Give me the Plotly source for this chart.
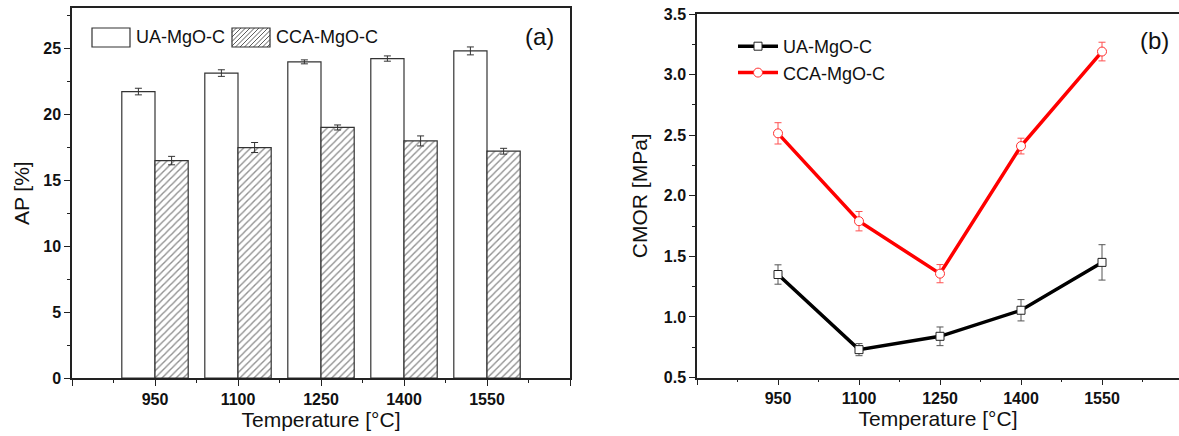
import plotly.graph_objects as go

W, H = 1179, 436

# ---------------- data ----------------
temps = [950, 1100, 1250, 1400, 1550]
tick_labels = ["950", "1100", "1250", "1400", "1550"]
series_names = ["UA-MgO-C", "CCA-MgO-C"]

ap_ua = [21.7, 23.1, 23.95, 24.2, 24.78]
ap_ua_err = [0.25, 0.25, 0.15, 0.2, 0.3]
ap_cca = [16.47, 17.46, 18.98, 17.96, 17.18]
ap_cca_err = [0.32, 0.38, 0.19, 0.38, 0.22]

cmor_ua = [1.35, 0.73, 0.84, 1.055, 1.45]
cmor_ua_err = [0.08, 0.05, 0.077, 0.088, 0.146]
cmor_cca = [2.515, 1.79, 1.357, 2.41, 3.19]
cmor_cca_err = [0.088, 0.08, 0.075, 0.065, 0.077]

# ---------------- helpers ----------------
def px(x):
    return x / W


def py(y):
    return 1 - y / H


FONT = "Liberation Sans"
AX = "#222222"
major_x = [800] + temps + [1700]
major_txt = [""] + tick_labels + [""]
minor_x = [875 + 150 * i for i in range(6)]

fig = go.Figure()

# ---------------- panel (a): bars ----------------
bar_w = 60
fig.add_trace(go.Bar(
    x=temps, y=ap_ua, width=bar_w, offset=-bar_w, name=series_names[0],
    marker=dict(color="white", line=dict(color="#333333", width=1.2)),
    error_y=dict(type="data", array=ap_ua_err, color="#333333", thickness=1, width=3.5),
    xaxis="x", yaxis="y", showlegend=False,
))
fig.add_trace(go.Bar(
    x=temps, y=ap_cca, width=bar_w, offset=0, name=series_names[1],
    marker=dict(color="white", line=dict(color="#333333", width=1.2),
                pattern=dict(shape="/", fgcolor="#222222", bgcolor="white", size=5, solidity=0.28)),
    error_y=dict(type="data", array=ap_cca_err, color="#333333", thickness=1, width=3.5),
    xaxis="x", yaxis="y", showlegend=False,
))

# ---------------- panel (b): lines ----------------
fig.add_trace(go.Scatter(
    x=temps, y=cmor_ua, name=series_names[0], mode="lines+markers",
    line=dict(color="black", width=3.5),
    marker=dict(symbol="square", size=8, color="white", line=dict(color="#222222", width=1)),
    error_y=dict(type="data", array=cmor_ua_err, color="#555555", thickness=1, width=3.5),
    xaxis="x2", yaxis="y2", legend="legend2",
))
fig.add_trace(go.Scatter(
    x=temps, y=cmor_cca, name=series_names[1], mode="lines+markers",
    line=dict(color="#ff0000", width=3.5),
    marker=dict(symbol="circle", size=9, color="white", line=dict(color="#ff3030", width=1)),
    error_y=dict(type="data", array=cmor_cca_err, color="#ff5050", thickness=1, width=3.5),
    xaxis="x2", yaxis="y2", legend="legend2",
))

tickfont = dict(family=FONT, size=16, color="#111111", weight="bold")
titlefont = dict(family=FONT, size=21, color="#111111")

xcommon = dict(
    tickmode="array", tickvals=major_x, ticktext=major_txt,
    ticks="outside", ticklen=6, tickwidth=1.2, tickcolor=AX,
    minor=dict(tickvals=minor_x, ticks="outside", ticklen=3, tickwidth=1.2, tickcolor=AX),
    showline=True, linecolor=AX, linewidth=1.5, mirror=True,
    showgrid=False, zeroline=False, tickfont=tickfont, automargin=False,
    title=dict(text="Temperature [°C]", font=titlefont, standoff=5),
)

fig.update_layout(
    width=W, height=H,
    margin=dict(l=0, r=0, t=0, b=0, autoexpand=False),
    paper_bgcolor="white", plot_bgcolor="white",
    barmode="overlay",
    font=dict(family=FONT, color="#111111"),
    xaxis=dict(domain=[px(72), px(570)], range=[800, 1700], anchor="y", **xcommon),
    yaxis=dict(
        domain=[py(378), py(8.4)], range=[0, 28], anchor="x",
        tickmode="linear", tick0=0, dtick=5,
        ticks="outside", ticklen=6, tickwidth=1.2, tickcolor=AX,
        minor=dict(dtick=2.5, tick0=0, ticks="outside", ticklen=3, tickwidth=1.2, tickcolor=AX),
        showline=True, linecolor=AX, linewidth=1.5, mirror=True,
        showgrid=False, zeroline=False, tickfont=tickfont, automargin=False,
        title=dict(text="AP [%]", font=titlefont, standoff=8),
    ),
    xaxis2=dict(domain=[px(697), 1.0], range=[800, 800 + (W - 697) / 81.0 * 150], anchor="y2", **xcommon),
    yaxis2=dict(
        domain=[py(377.5), py(14)], range=[0.5, 3.5], anchor="x2",
        tickmode="linear", tick0=0.5, dtick=0.5, tickformat=".1f",
        ticks="outside", ticklen=6, tickwidth=1.2, tickcolor=AX,
        minor=dict(dtick=0.25, tick0=0.5, ticks="outside", ticklen=3, tickwidth=1.2, tickcolor=AX),
        showline=True, linecolor=AX, linewidth=1.5, mirror=False,
        showgrid=False, zeroline=False, tickfont=tickfont, automargin=False,
        title=dict(text="CMOR [MPa]", font=titlefont, standoff=10),
    ),
    legend2=dict(
        x=px(733), y=py(28), xanchor="left", yanchor="top",
        font=dict(family=FONT, size=18, color="#111111"),
        bgcolor="rgba(0,0,0,0)", borderwidth=0, tracegroupgap=0, itemwidth=40,
    ),
    showlegend=True,
)

# ---------------- custom legend for panel (a) ----------------
shapes = []
box_ua = (92, 28, 130, 47)
box_cca = (232, 28, 270, 47)
for (x0, y0, x1, y1) in (box_ua, box_cca):
    shapes.append(dict(type="rect", xref="paper", yref="paper",
                       x0=px(x0), x1=px(x1), y0=py(y1), y1=py(y0),
                       line=dict(color="#333333", width=1.2), fillcolor="white"))
# hatch lines for CCA swatch ("/" direction), clipped to the box
x0, y0, x1, y1 = box_cca
h = y1 - y0
step = 4.5
s = x0 - h
while s < x1:
    ax_, ay_ = s, y1
    bx_, by_ = s + h, y0
    if ax_ < x0:
        ay_ = y1 - (x0 - ax_)
        ax_ = x0
    if bx_ > x1:
        by_ = y0 + (bx_ - x1)
        bx_ = x1
    if bx_ > ax_:
        shapes.append(dict(type="line", xref="paper", yref="paper",
                           x0=px(ax_), y0=py(ay_), x1=px(bx_), y1=py(by_),
                           line=dict(color="#333333", width=0.8)))
    s += step
fig.update_layout(shapes=shapes)

annotations = [
    dict(text=series_names[0], x=px(134), y=py(37.5), xref="paper", yref="paper",
         xanchor="left", yanchor="middle", showarrow=False,
         font=dict(family=FONT, size=18, color="#111111")),
    dict(text=series_names[1], x=px(274), y=py(37.5), xref="paper", yref="paper",
         xanchor="left", yanchor="middle", showarrow=False,
         font=dict(family=FONT, size=18, color="#111111")),
    dict(text="(a)", x=px(539), y=py(37), xref="paper", yref="paper",
         xanchor="center", yanchor="middle", showarrow=False,
         font=dict(family=FONT, size=24, color="#111111")),
    dict(text="(b)", x=px(1154), y=py(40), xref="paper", yref="paper",
         xanchor="center", yanchor="middle", showarrow=False,
         font=dict(family=FONT, size=24, color="#111111")),
]
fig.update_layout(annotations=annotations)

fig.write_html("out.html", config={"displayModeBar": False},
               post_script="document.body.style.margin='0';document.body.style.overflow='hidden';")
